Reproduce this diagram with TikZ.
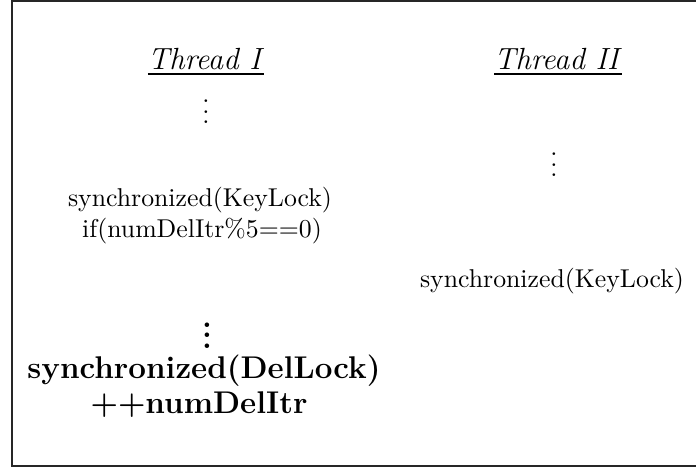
\documentclass[tikz,border=0pt]{standalone}
\usepackage{amsmath}
\begin{document}
\begin{tikzpicture}[x=0.392pt,y=-0.392pt,
  title/.style={font=\large, inner sep=0pt},
  code/.style={font=\fontsize{10.1}{12}\selectfont, inner sep=0pt},
  boldcode/.style={font=\fontsize{12.3}{14}\selectfont\bfseries\boldmath, inner sep=0pt},
  frame/.style={draw=black!85, line width=0.7pt}]
\useasboundingbox (0,0) rectangle (696,468);
\draw[frame] (12,1) rectangle (720,466);
% Thread I
\node[title] (t1) at (206,62) {\underline{\textit{Thread I}}};
\node[code] (d1) at (206,104) {$\vdots$};
\node[code] (k1) at (200,200) {synchronized(KeyLock)};
\node[code] (i1) at (202,231) {if(numDelItr\%5==0)};
\node[boldcode] (d2) at (207,328) {$\vdots$};
\node[boldcode] (s1) at (204,371) {synchronized(DelLock)};
\node[boldcode] (n1) at (199,405) {++numDelItr};
% Thread II
\node[title] (t2) at (558,62) {\underline{\textit{Thread II}}};
\node[code] (d3) at (554,157) {$\vdots$};
\node[code] (k2) at (552,281) {synchronized(KeyLock)};
\end{tikzpicture}
\end{document}
